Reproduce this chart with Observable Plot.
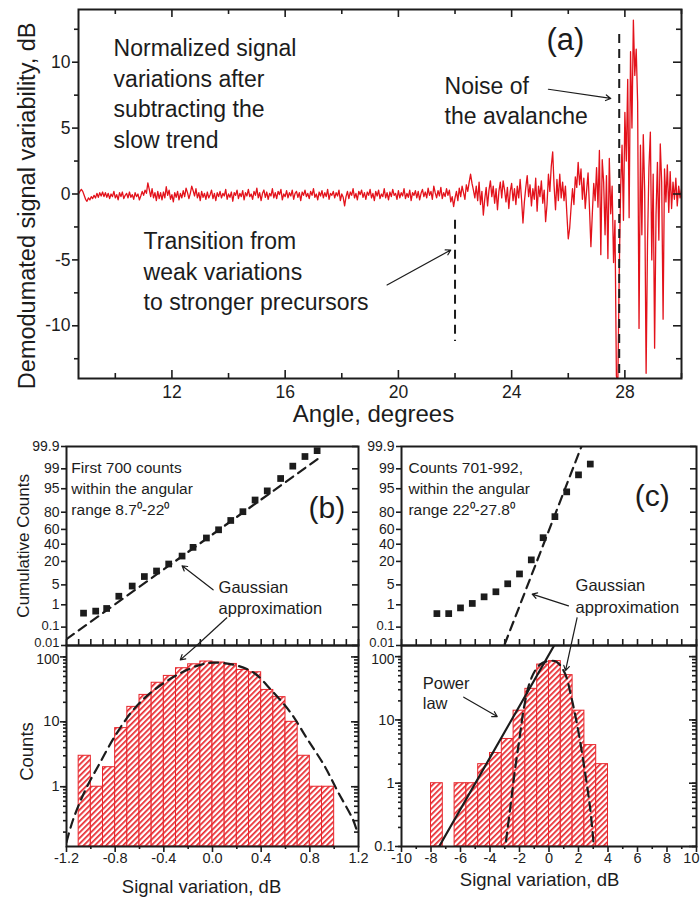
<!DOCTYPE html>
<html><head><meta charset="utf-8">
<script src="https://cdn.jsdelivr.net/npm/d3@7"></script>
<script src="https://cdn.jsdelivr.net/npm/@observablehq/plot@0.6"></script>
<style>
body{margin:0;background:#fff;}
#fig{position:relative;width:700px;height:898px;overflow:hidden;background:#fff;}
#fig svg{position:absolute;left:0;top:0;}
</style></head><body>
<svg width="0" height="0" style="position:absolute"><defs>
<pattern id="hatch" patternUnits="userSpaceOnUse" width="4" height="4" patternTransform="rotate(45)">
<rect width="4" height="4" fill="#fff"/>
<rect width="1.7" height="4" fill="#e8262c"/>
</pattern></defs></svg>
<div id="fig"></div>
<script>
// ---------------- DATA ----------------
// (a) demodulated signal, sampled every 0.05 degree from 8.7 to 30
const signalStart = 8.7, signalStep = 0.05;
const signal = [
 0.0,0.2,0.35,0.2,-0.1,-0.4,-0.55,-0.3,-0.45,-0.2,-0.35,-0.1,-0.3,0.05,-0.25,0.1,-0.15,0.15,-0.2,0.1,
 -0.25,0.05,-0.35,0.0,-0.2,0.2,-0.3,-0.05,-0.45,0.1,-0.2,0.15,-0.35,-0.1,0.05,-0.3,0.15,-0.25,-0.05,-0.4,
 0.1,-0.2,0.0,-0.45,-0.15,0.2,-0.1,0.3,0.05,0.85,0.35,-0.2,0.4,-0.3,0.1,-0.5,0.2,-0.35,0.1,-0.45,
 0.15,-0.3,0.55,-0.1,0.3,-0.4,-0.05,-0.6,0.1,-0.25,0.2,-0.45,0.05,-0.3,0.25,-0.2,0.45,0.1,-0.35,0.05,
 0.6,0.25,-0.15,0.4,-0.3,0.1,-0.5,0.2,-0.25,0.05,-0.4,0.15,-0.3,-0.05,0.3,-0.35,0.05,-0.5,0.1,-0.2,
 0.2,-0.3,0.05,-0.15,0.35,-0.4,0.0,-0.25,0.15,-0.55,0.1,-0.1,0.3,-0.35,0.05,-0.2,0.25,-0.45,0.1,-0.15,
 0.35,-0.2,0.0,-0.4,0.2,-0.1,0.45,-0.3,0.1,-0.5,0.05,0.3,-0.25,0.15,-0.4,0.05,-0.15,0.4,-0.3,0.1,
 -0.35,0.2,-0.05,0.35,-0.45,0.0,-0.2,0.25,-0.3,0.1,-0.15,0.3,-0.4,0.05,0.2,-0.25,0.1,-0.5,0.15,-0.1,
 0.3,-0.2,0.05,-0.35,0.2,-0.1,0.4,-0.25,0.0,-0.45,0.15,-0.15,0.25,-0.3,0.1,-0.2,0.35,-0.4,0.05,-0.1,
 0.2,-0.3,0.1,-0.15,0.3,-0.5,0.0,-0.25,-0.9,-0.2,0.2,-0.35,0.15,-0.1,0.4,-0.3,0.05,-0.45,0.2,-0.05,
 0.3,-0.25,0.1,-0.4,0.15,-0.1,0.35,-0.3,0.05,-0.5,0.2,-0.15,0.3,-0.35,0.0,-0.2,0.4,-0.3,0.1,-0.45,
 0.15,-0.2,0.35,-0.1,0.05,-0.4,0.25,-0.3,0.1,-0.15,0.4,-0.35,0.05,-0.25,0.3,-0.5,0.1,-0.1,0.25,-0.3,
 0.2,-0.45,0.05,0.35,-0.2,0.15,-0.3,0.45,-0.1,0.2,-0.4,0.6,0.1,-0.3,0.25,-0.15,0.5,-0.35,0.1,-0.2,
 0.4,-0.1,0.3,-0.6,-0.2,-0.95,-0.3,0.2,-0.5,0.45,-0.2,0.6,0.1,-0.4,0.7,0.2,0.9,1.5,0.8,0.3,
 -0.3,0.6,-0.5,0.9,-0.8,0.2,-1.6,-0.4,0.5,-0.9,0.3,1.0,-0.2,0.6,-0.7,0.4,-1.2,0.2,0.9,-0.3,
 1.0,0.3,-0.6,0.5,-1.1,0.2,0.8,-0.5,0.4,-0.8,0.6,-0.3,1.1,-0.4,-2.2,-0.6,0.5,1.4,-0.2,0.7,
 -0.9,0.4,-0.4,1.2,-1.3,0.6,-0.2,1.0,-0.7,0.3,-2.1,-0.8,1.5,0.2,2.1,3.2,0.6,-1.2,1.1,-0.5,
 1.5,-0.3,0.9,-0.5,0.6,-1.5,-3.4,-2.6,-1.0,0.4,-0.8,1.3,0.5,2.4,0.7,1.9,-0.4,1.2,-1.1,0.3,
 1.6,-1.1,-4.0,-1.5,0.8,-0.5,2.0,-1.0,3.3,-4.6,2.6,0.9,-3.1,1.4,-4.9,2.7,-1.5,0.6,-5.2,-2.0,
 -13.8,-14.5,-6.0,0.4,3.7,-2.0,6.2,2.5,8.7,-1.8,10.8,5.0,13.2,9.0,11.0,7.0,-10.2,3.7,-3.1,4.5,
 0.2,-13.6,-3.6,2.0,4.7,-5.0,1.5,-11.7,-1.6,2.4,-3.5,3.8,0.9,-9.5,1.9,-0.6,2.2,-1.4,1.7,-1.1,
 0.9,-0.4,1.2,-0.9,0.6,-0.3,0.4
];
const angleTicksMajor = [12, 16, 20, 24, 28];
const angleTicksMinor = [10, 14, 18, 22, 26, 30];
const dbTicksMajor = [-10, -5, 0, 5, 10];
const dbTicksMinor = [-12.5, -7.5, -2.5, 2.5, 7.5, 12.5];
const markerAngles = [22, 27.8];
const markerFrom = [-2.0, 12.1];
const markerTo = [-11.2, -14];

// (b) first 700 counts
const cumXB = [-1.06,-0.96,-0.87,-0.77,-0.66,-0.56,-0.46,-0.36,-0.25,-0.16,-0.05,0.05,0.15,0.25,0.35,0.45,0.56,0.66,0.76,0.86];
const cumPctB = [0.45,0.55,0.71,2.1,4.6,8.7,12.1,17.6,25.5,35.9,48.4,59.5,71.2,80.5,89.6,94.2,97.7,99.22,99.70,99.84];
const gaussLineXB = [-1.2, 0.9];
const gaussLinePctB = [0.023, 99.72];
const binStartB = [-1.1,-1.0,-0.9,-0.8,-0.7,-0.6,-0.5,-0.4,-0.3,-0.2,-0.1,0.0,0.1,0.2,0.3,0.4,0.5,0.6,0.7,0.8,0.9];
const countsB = [3,1,2,8,17,26,40,51,67,77,85,82,78,63,58,31,24,10,3,1,1];
const binWidthB = 0.1;
const gaussCurveXB = [-1.2,-1.146,-1.04,-0.93,-0.80,-0.66,-0.51,-0.29,-0.10,0.01,0.18,0.34,0.48,0.64,0.78,0.92,1.03,1.155,1.19];
const gaussCurveYB = [0.14,0.31,0.93,2.24,6.1,14.6,27.9,53,75.5,81.8,75.5,57,31.3,14,5.4,2.1,0.84,0.31,0.2];

// (c) counts 701-992
const cumXC = [-7.6,-6.8,-6.0,-5.2,-4.4,-3.6,-2.8,-2.0,-1.2,-0.4,0.4,1.2,2.0,2.8];
const cumPctC = [0.43,0.43,0.75,1.13,2.0,3.0,5.4,10.2,21.5,48.8,75.5,93.8,98.3,99.36];
const gaussLineXC = [-3.0, 2.2];
const gaussLinePctC = [0.012, 99.9];
const binStartC = [-8.0,-7.2,-6.4,-5.6,-4.8,-4.0,-3.2,-2.4,-1.6,-0.8,0.0,0.8,1.6,2.4,3.2];
const countsC = [1,0,1,1,2,3,5,14,31,75,85,51,14,4,2];
const binWidthC = 0.8;
const gaussCurveXC = [-2.92,-2.63,-2.35,-2.0,-1.67,-1.21,-0.64,-0.07,0.5,1.07,1.53,1.99,2.44,2.79,3.01];
const gaussCurveYC = [0.12,0.40,1.36,5.1,17,45,74,85,83,55,22,6.6,1.5,0.4,0.12];
const powerLawX = [-7.45, 0.35];
const powerLawY = [0.1, 150];

// tick values / labels
const probTickPct = [0.01,0.1,1,5,20,40,60,80,95,99,99.9];
const probTickLabels = ["0.01","0.1","1","5","20","40","60","80","95","99","99.9"];
const xTicksB = [-1.2,-0.8,-0.4,0.0,0.4,0.8,1.2];
const xMinorB = [-1.0,-0.6,-0.2,0.2,0.6,1.0];
const xTicksC = [-10,-8,-6,-4,-2,0,2,4,6,8,10];
const xMinorC = [-9,-7,-5,-3,-1,1,3,5,7,9];
const countTicksB = [1,10,100];
const countTicksC = [0.1,1,10,100];

// ---------------- HELPERS ----------------
function probit(p){
  const a=[-3.969683028665376e+01,2.209460984245205e+02,-2.759285104469687e+02,1.383577518672690e+02,-3.066479806614716e+01,2.506628277459239e+00];
  const b=[-5.447609879822406e+01,1.615858368580409e+02,-1.556989798598866e+02,6.680131188771972e+01,-1.328068155288572e+01];
  const c=[-7.784894002430293e-03,-3.223964580411365e-01,-2.400758277161838e+00,-2.549671010432135e+00,4.374664141464968e+00,2.938163982698783e+00];
  const d=[7.784695709041462e-03,3.224671290700398e-01,2.445134137142996e+00,3.754408661907416e+00];
  const pl=0.02425, ph=1-pl; let q,r;
  if(p<pl){q=Math.sqrt(-2*Math.log(p));return (((((c[0]*q+c[1])*q+c[2])*q+c[3])*q+c[4])*q+c[5])/((((d[0]*q+d[1])*q+d[2])*q+d[3])*q+1);}
  if(p<=ph){q=p-0.5;r=q*q;return (((((a[0]*r+a[1])*r+a[2])*r+a[3])*r+a[4])*r+a[5])*q/(((((b[0]*r+b[1])*r+b[2])*r+b[3])*r+b[4])*r+1);}
  q=Math.sqrt(-2*Math.log(1-p));return -(((((c[0]*q+c[1])*q+c[2])*q+c[3])*q+c[4])*q+c[5])/((((d[0]*q+d[1])*q+d[2])*q+d[3])*q+1);
}
const Z = pct => probit(pct/100);
const FONT = '"Liberation Sans", Arial, Helvetica, sans-serif';
const INK = "#1c1c1c";
const RED = "#e3121b";
const W = 700, H = 898;
function base(f){
  return {width: W, height: H, marginLeft: f.l, marginRight: W - f.r, marginTop: f.t, marginBottom: H - f.b,
    style: {background: "transparent", overflow: "visible", fontFamily: FONT}};
}
const tk = {stroke: INK, strokeWidth: 1.6};
function ticksX(vals, f, len, where){
  const fh = f.b - f.t;
  if (where === "bottomIn") return Plot.ruleX(vals, {...tk, insetTop: fh - len});
  if (where === "topIn") return Plot.ruleX(vals, {...tk, insetBottom: fh - len});
  return Plot.ruleX(vals, {...tk, insetTop: fh, insetBottom: -len});
}
function ticksY(vals, f, len, where){
  const fw = f.r - f.l;
  if (where === "leftIn") return Plot.ruleY(vals, {...tk, insetRight: fw - len});
  if (where === "rightIn") return Plot.ruleY(vals, {...tk, insetLeft: fw - len});
  return Plot.ruleY(vals, {...tk, insetRight: fw, insetLeft: -len});
}
const txt = (o) => ({fill: INK, fontFamily: FONT, ...o});
const logMinor = (lo, hi) => {
  const out = [];
  for (let e = -2; e <= 2; e++) for (let m = 1; m <= 9; m++) { const v = m * Math.pow(10, e); if (v >= lo && v <= hi) out.push(v); }
  return out;
};
const fig = document.getElementById("fig");

// ---------------- PANEL (a) ----------------
const FA = {l: 78, r: 681, t: 9, b: 378};
const markers = markerAngles.map((a, i) => ({angle: a, from: markerFrom[i], to: markerTo[i]}));
fig.append(Plot.plot({
  ...base(FA),
  x: {type: "linear", domain: [8.7, 30], axis: null},
  y: {type: "linear", domain: [-14, 14], axis: null},
  marks: [
    Plot.line(signal, {x: (d, i) => signalStart + i * signalStep, y: d => d, stroke: RED, strokeWidth: 1.3, strokeLinejoin: "round", clip: true}),
    Plot.ruleX(markers, {x: "angle", y1: "from", y2: "to", stroke: INK, strokeWidth: 2, strokeDasharray: "9,6", clip: true}),
    Plot.frame({stroke: INK, strokeWidth: 2}),
    ticksX(angleTicksMajor, FA, 8, "bottomIn"), ticksX(angleTicksMinor, FA, 5, "bottomIn"),
    ticksX(angleTicksMajor, FA, 8, "topIn"), ticksX(angleTicksMinor, FA, 5, "topIn"),
    ticksY(dbTicksMajor, FA, 6, "leftOut"), ticksY(dbTicksMinor, FA, 4, "leftOut"),
    ticksY(dbTicksMajor, FA, 8, "rightIn"), ticksY(dbTicksMinor, FA, 5, "rightIn"),
    Plot.text(angleTicksMajor, txt({x: d => d, frameAnchor: "bottom", dy: 19, text: d => String(d), fontSize: 17.5})),
    Plot.text(dbTicksMajor, txt({y: d => d, frameAnchor: "left", dx: -8, textAnchor: "end", text: d => String(d), fontSize: 17.5})),
    Plot.text(["Angle, degrees"], txt({x: 19.12, y: -16.7, text: d => d, fontSize: 24})),
    Plot.text(["Demodumated signal variability, dB"], txt({x: 6.9, y: -0.9, rotate: -90, text: d => d, fontSize: 23.5})),
    Plot.text(["Normalized signal\nvariations after\nsubtracting the\nslow trend"], txt({x: 9.94, y: 7.72, text: d => d, textAnchor: "start", fontSize: 23, lineHeight: 1.33})),
    Plot.text(["Noise of\nthe avalanche"], txt({x: 21.63, y: 7.2, text: d => d, textAnchor: "start", fontSize: 23, lineHeight: 1.32})),
    Plot.text(["(a)"], txt({x: 25.9, y: 11.7, text: d => d, fontSize: 31})),
    Plot.text(["Transition from\nweak variations\nto stronger precursors"], txt({x: 11.0, y: -5.75, text: d => d, textAnchor: "start", fontSize: 23, lineHeight: 1.33})),
    Plot.arrow([0], {x1: 25.3, y1: 7.95, x2: 27.5, y2: 7.25, stroke: INK, strokeWidth: 1.2, headLength: 7}),
    Plot.arrow([0], {x1: 19.6, y1: -6.9, x2: 21.85, y2: -4.25, stroke: INK, strokeWidth: 1.2, headLength: 7})
  ]
}));

// ---------------- shared probability-axis pieces ----------------
const probTicks = probTickPct.map((p, i) => ({z: Z(p), label: probTickLabels[i], p}));
const zDomain = [Z(0.01), Z(99.9)];
function probLabelMarks(){
  return [
    Plot.text(probTicks.filter(d => d.p > 0.1), txt({y: "z", frameAnchor: "left", dx: -7, textAnchor: "end", text: "label", fontSize: 14})),
    Plot.text(probTicks.filter(d => d.p === 0.1), txt({y: "z", frameAnchor: "left", dx: -7, dy: -1.5, textAnchor: "end", text: "label", fontSize: 13})),
    Plot.text(probTicks.filter(d => d.p === 0.01), txt({y: "z", frameAnchor: "left", dx: -7, dy: -3, textAnchor: "end", text: "label", fontSize: 13}))
  ];
}
function countLabelMarks(vals){
  return [
    Plot.text(vals.filter(v => v !== 100), txt({y: d => d, frameAnchor: "left", dx: -7, textAnchor: "end", text: d => String(d), fontSize: 14.5})),
    Plot.text(vals.filter(v => v === 100), txt({y: d => d, frameAnchor: "left", dx: -7, dy: 2.5, textAnchor: "end", text: d => String(d), fontSize: 14}))
  ];
}

// ---------------- PANEL (b) probability ----------------
const FBp = {l: 66, r: 358, t: 446, b: 645};
const cumB = cumXB.map((x, i) => ({x, z: Z(cumPctB[i])}));
const gLineB = gaussLineXB.map((x, i) => ({x, z: Z(gaussLinePctB[i])}));
fig.append(Plot.plot({
  ...base(FBp),
  x: {type: "linear", domain: [-1.2, 1.2], axis: null},
  y: {type: "linear", domain: zDomain, axis: null},
  marks: [
    Plot.line(gLineB, {x: "x", y: "z", stroke: INK, strokeWidth: 2.2, strokeDasharray: "9,6", clip: true}),
    Plot.dot(cumB, {x: "x", y: "z", symbol: "square", r: 3.8, fill: INK, stroke: "none"}),
    Plot.frame({stroke: INK, strokeWidth: 2}),
    Plot.ruleY(probTicks, {y: "z", ...tk, insetRight: FBp.r - FBp.l, insetLeft: -5}),
    Plot.ruleY(probTicks, {y: "z", ...tk, insetLeft: FBp.r - FBp.l - 6}),
    ticksX(d3.range(-12, 13).map(k => k / 10), FBp, 6, "bottomIn"),
    ...probLabelMarks(),
    Plot.text(["Cumulative Counts"], txt({x: -1.55, y: Z(37.9), rotate: -90, text: d => d, fontSize: 17})),
    Plot.text(["First 700 counts\nwithin the angular\nrange 8.7\u2070-22\u2070"], txt({x: -1.16, y: Z(95.6), text: d => d, textAnchor: "start", fontSize: 15.5, lineHeight: 1.36})),
    Plot.text(["(b)"], txt({x: 0.94, y: Z(83.1), text: d => d, fontSize: 30})),
    Plot.text(["Gaussian\napproximation"], txt({x: 0.05, y: Z(2.0), text: d => d, textAnchor: "start", fontSize: 16.5, lineHeight: 1.3})),
    Plot.arrow([0], {x1: 0.005, y1: Z(3.5), x2: -0.25, y2: Z(16.1), stroke: INK, strokeWidth: 1.2, headLength: 7}),
    Plot.link([0], {x1: 0.12, y1: Z(0.29), x2: -0.13, y2: zDomain[0], stroke: INK, strokeWidth: 1.2})
  ]
}));

// ---------------- PANEL (b) histogram ----------------
const FBh = {l: 66, r: 358, t: 645, b: 846};
const yMinB = 0.12;
const binsB = binStartB.map((x0, i) => ({x0, x1: x0 + binWidthB, n: countsB[i]})).filter(d => d.n > 0);
const gCurveB = gaussCurveXB.map((x, i) => ({x, y: gaussCurveYB[i]}));
fig.append(Plot.plot({
  ...base(FBh),
  x: {type: "linear", domain: [-1.2, 1.2], axis: null},
  y: {type: "log", domain: [yMinB, 150], axis: null},
  marks: [
    Plot.rect(binsB, {x1: "x0", x2: "x1", y1: () => yMinB, y2: "n", fill: "url(#hatch)", stroke: "#e8262c", strokeWidth: 1}),
    Plot.line(gCurveB, {x: "x", y: "y", stroke: INK, strokeWidth: 2.2, strokeDasharray: "9,6", curve: "catmull-rom", clip: true}),
    Plot.frame({stroke: INK, strokeWidth: 2}),
    ticksY(countTicksB, FBh, 6, "leftOut"), ticksY(logMinor(yMinB, 150), FBh, 3, "leftOut"),
    ticksY(countTicksB, FBh, 7, "rightIn"), ticksY(logMinor(yMinB, 150), FBh, 4, "rightIn"),
    ticksX(xTicksB, FBh, 6, "bottomOut"), ticksX(xMinorB, FBh, 3, "bottomOut"),
    Plot.text(xTicksB, txt({x: d => d, frameAnchor: "bottom", dy: 16, text: d => d.toFixed(1), fontSize: 14.5})),
    ...countLabelMarks(countTicksB),
    Plot.text(["Counts"], txt({x: -1.52, y: 3.49, rotate: -90, text: d => d, fontSize: 18.5})),
    Plot.text(["Signal variation, dB"], txt({x: -0.09, y: 0.028, text: d => d, fontSize: 18.5})),
    Plot.arrow([0], {x1: -0.13, y1: 150, x2: -0.265, y2: 90, stroke: INK, strokeWidth: 1.2, headLength: 7})
  ]
}));

// ---------------- PANEL (c) probability ----------------
const FCp = {l: 401, r: 696, t: 446, b: 645};
const cumC = cumXC.map((x, i) => ({x, z: Z(cumPctC[i])}));
const gLineC = gaussLineXC.map((x, i) => ({x, z: Z(gaussLinePctC[i])}));
fig.append(Plot.plot({
  ...base(FCp),
  x: {type: "linear", domain: [-10, 10], axis: null},
  y: {type: "linear", domain: zDomain, axis: null},
  marks: [
    Plot.line(gLineC, {x: "x", y: "z", stroke: INK, strokeWidth: 2.2, strokeDasharray: "9,6", clip: true}),
    Plot.dot(cumC, {x: "x", y: "z", symbol: "square", r: 3.8, fill: INK, stroke: "none"}),
    Plot.frame({stroke: INK, strokeWidth: 2}),
    Plot.ruleY(probTicks, {y: "z", ...tk, insetRight: FCp.r - FCp.l, insetLeft: -5}),
    Plot.ruleY(probTicks, {y: "z", ...tk, insetLeft: FCp.r - FCp.l - 6}),
    ticksX(d3.range(-10, 11), FCp, 6, "bottomIn"),
    ...probLabelMarks(),
    Plot.text(["Counts 701-992,\nwithin the angular\nrange 22\u2070-27.8\u2070"], txt({x: -9.53, y: Z(95.6), text: d => d, textAnchor: "start", fontSize: 15.5, lineHeight: 1.36})),
    Plot.text(["(c)"], txt({x: 7.0, y: Z(91.9), text: d => d, fontSize: 30})),
    Plot.text(["Gaussian\napproximation"], txt({x: 1.8, y: Z(2.3), text: d => d, textAnchor: "start", fontSize: 16.5, lineHeight: 1.3})),
    Plot.arrow([0], {x1: 1.32, y1: Z(0.91), x2: -1.14, y2: Z(2.5), stroke: INK, strokeWidth: 1.2, headLength: 7}),
    Plot.link([0], {x1: 1.91, y1: Z(0.29), x2: 1.49, y2: zDomain[0], stroke: INK, strokeWidth: 1.2})
  ]
}));

// ---------------- PANEL (c) histogram ----------------
const FCh = {l: 401, r: 696, t: 645, b: 846};
const yMinC = 0.1;
const binsC = binStartC.map((x0, i) => ({x0, x1: x0 + binWidthC, n: countsC[i]})).filter(d => d.n > 0);
const gCurveC = gaussCurveXC.map((x, i) => ({x, y: gaussCurveYC[i]}));
const powerLaw = powerLawX.map((x, i) => ({x, y: powerLawY[i]}));
const lastTickC = xTicksC[xTicksC.length - 1];
fig.append(Plot.plot({
  ...base(FCh),
  x: {type: "linear", domain: [-10, 10], axis: null},
  y: {type: "log", domain: [yMinC, 150], axis: null},
  marks: [
    Plot.rect(binsC, {x1: "x0", x2: "x1", y1: () => yMinC, y2: "n", fill: "url(#hatch)", stroke: "#e8262c", strokeWidth: 1}),
    Plot.line(gCurveC, {x: "x", y: "y", stroke: INK, strokeWidth: 2.2, strokeDasharray: "9,6", curve: "catmull-rom", clip: true}),
    Plot.line(powerLaw, {x: "x", y: "y", stroke: INK, strokeWidth: 2.2, clip: true}),
    Plot.frame({stroke: INK, strokeWidth: 2}),
    ticksY(countTicksC, FCh, 6, "leftOut"), ticksY(logMinor(yMinC, 150), FCh, 3, "leftOut"),
    ticksY(countTicksC, FCh, 7, "rightIn"), ticksY(logMinor(yMinC, 150), FCh, 4, "rightIn"),
    ticksX(xTicksC, FCh, 6, "bottomOut"), ticksX(xMinorC, FCh, 3, "bottomOut"),
    Plot.text(xTicksC.filter(v => v !== lastTickC), txt({x: d => d, frameAnchor: "bottom", dy: 16, text: d => String(d), fontSize: 14.5})),
    Plot.text([lastTickC], txt({x: d => d, frameAnchor: "bottom", dy: 16, dx: 3, textAnchor: "end", text: d => String(d), fontSize: 14.5})),
    ...countLabelMarks(countTicksC),
    Plot.text(["Signal variation, dB"], txt({x: -0.64, y: 0.029, text: d => d, fontSize: 18.5})),
    Plot.text(["Power\nlaw"], txt({x: -8.56, y: 27.4, text: d => d, textAnchor: "start", fontSize: 16.5, lineHeight: 1.22})),
    Plot.arrow([0], {x1: -5.78, y1: 22.9, x2: -3.51, y2: 11.3, stroke: INK, strokeWidth: 1.2, headLength: 7}),
    Plot.arrow([0], {x1: 1.49, y1: 150, x2: 1.12, y2: 60, stroke: INK, strokeWidth: 1.2, headLength: 7})
  ]
}));
</script>
</body></html>
